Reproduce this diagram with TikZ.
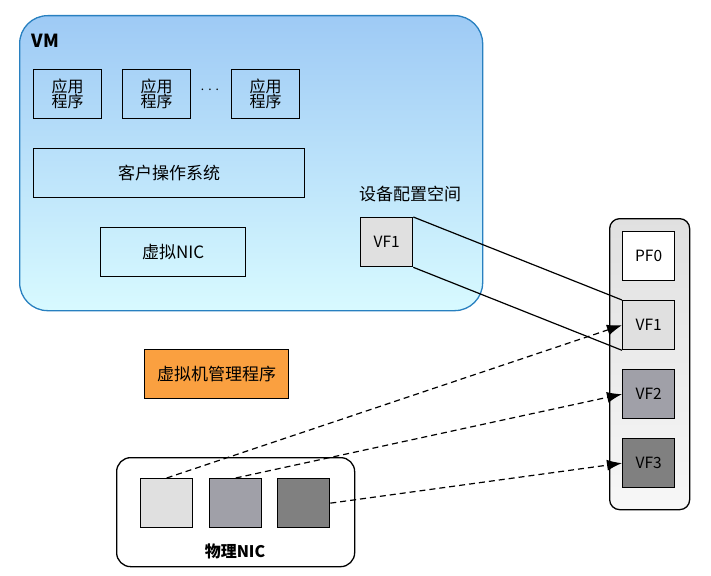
\documentclass[tikz,border=0pt]{standalone}
\usepackage{fontspec}
\setmainfont{Noto Sans CJK SC}
\newfontfamily\cjk{Noto Sans CJK SC}
\usetikzlibrary{arrows.meta}
\definecolor{vmtop}{RGB}{158,202,245}
\definecolor{vmbot}{RGB}{216,250,255}
\definecolor{vmedge}{RGB}{40,128,192}
\definecolor{lgray}{RGB}{224,224,224}
\definecolor{mgray}{RGB}{160,160,168}
\definecolor{dgray}{RGB}{128,128,128}
\definecolor{hyper}{RGB}{250,160,64}
\tikzset{
  box/.style={draw=black, line width=1.3pt, inner sep=0pt, font=\fontsize{16}{17}\selectfont},
  sq/.style={box, minimum width=52pt, minimum height=49pt, font=\fontsize{15.5}{17}\selectfont},
  conn/.style={line width=1.2pt},
  dconn/.style={line width=1.2pt, dash pattern=on 6pt off 4pt, -{Latex[length=15pt,width=11pt]}}
}
\begin{document}
\begin{tikzpicture}[x=1pt,y=-1pt]
\useasboundingbox (0,0) rectangle (711,575);
% VM container
\node[draw=vmedge, line width=1.3pt, rounded corners=28pt, top color=vmtop, bottom color=vmbot,
  minimum width=463pt, minimum height=295pt, anchor=north west, inner sep=0pt] (vm) at (19,15) {};
\node[font=\fontsize{18}{20}\selectfont\bfseries, anchor=west] (vmlabel) at (28,41) {VM};
% apps
\node[box, minimum width=68pt, minimum height=49pt, align=center, anchor=north west] (app1) at (33,69) {应用\\[-2pt]程序};
\node[box, minimum width=68pt, minimum height=49pt, align=center, anchor=north west] (app2) at (122,69) {应用\\[-2pt]程序};
\node[box, minimum width=68pt, minimum height=49pt, align=center, anchor=north west] (app3) at (231,69) {应用\\[-2pt]程序};
\node[font=\fontsize{12}{14}\selectfont] (dots) at (210,90) {.\,\,.\,\,.};
\node[box, minimum width=271pt, minimum height=49pt, anchor=north west, font=\fontsize{17}{18}\selectfont] (os) at (33,148) {客户操作系统};
\node[box, minimum width=145pt, minimum height=49pt, anchor=north west, font=\fontsize{17}{18}\selectfont] (vnic) at (100,227) {虚拟NIC};
\node[font=\fontsize{17}{18}\selectfont] (cfg) at (410,194) {设备配置空间};
\node[sq, fill=lgray, anchor=north west] (cvf1) at (360,217) {VF1};
% right panel
\node[draw=black, line width=1.3pt, rounded corners=10pt, top color=lgray, bottom color=white!97!black,
  minimum width=80pt, minimum height=291pt, anchor=north west, inner sep=0pt] (panel) at (609,218) {};
\node[sq, fill=white, anchor=north west] (pf0) at (622,231) {PF0};
\node[sq, fill=lgray, anchor=north west] (vf1) at (622,300) {VF1};
\node[sq, fill=mgray, anchor=north west] (vf2) at (622,369) {VF2};
\node[sq, fill=dgray, anchor=north west] (vf3) at (622,438) {VF3};
% mapping lines
\draw[conn] (cvf1.north east) -- (vf1.north west);
\draw[conn] (cvf1.south east) -- (vf1.south west);
% hypervisor
\node[box, fill=hyper, minimum width=144pt, minimum height=49pt, anchor=north west, font=\fontsize{17}{18}\selectfont] (hv) at (144,349) {虚拟机管理程序};
% physical NIC
\node[draw=black, line width=1.3pt, rounded corners=14pt, fill=white,
  minimum width=238pt, minimum height=109pt, anchor=north west, inner sep=0pt] (pnic) at (116,457) {};
\node[font=\fontsize{16}{17}\selectfont\bfseries] (pniclabel) at (235,551) {物理NIC};
\node[sq, fill=lgray, anchor=north west] (p1) at (140,478) {};
\node[sq, fill=mgray, anchor=north west] (p2) at (209,478) {};
\node[sq, fill=dgray, anchor=north west] (p3) at (277,478) {};
% dashed arrows
\draw[dconn] (p1.north) -- (vf1.west);
\draw[dconn] (p2.north) -- (vf2.west);
\draw[dconn] (p3.east) -- (vf3.west);
\end{tikzpicture}
\end{document}
